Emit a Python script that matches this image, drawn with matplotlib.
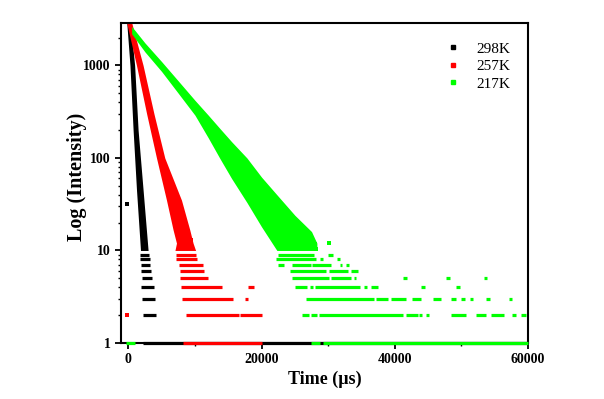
import matplotlib
matplotlib.use("Agg")
import matplotlib.pyplot as plt
from matplotlib.lines import Line2D
from matplotlib.ticker import LogLocator, NullFormatter

plt.rcParams['font.family'] = ['Liberation Serif', 'DejaVu Serif']

labels = ["298K", "257K", "217K"]
colors = ["black", "#ff0000", "#00ff00"]

# dense part of each decay: count level and the
# earliest / latest time (us) where points sit at that level
k298_cloud_y = [3000, 1000, 200, 45, 10]
k298_cloud_t0 = [-250, 250, 720, 1230, 1830]
k298_cloud_t1 = [300, 950, 1470, 2220, 2970]

k257_cloud_y = [3000, 1000, 300, 100, 35, 16.7, 12, 10]
k257_cloud_t0 = [-300, 1230, 2750, 4230, 5730, 6720, 7230, 7000]
k257_cloud_t1 = [450, 2220, 3850, 5475, 7980, 9225, 9720, 10100]

# green decay is flatter: time (us) with lowest / highest count
k217_cloud_t = [500, 2500, 5000, 7500, 10000, 12000, 13700, 15500, 17800,
                20000, 22300, 25000, 27500, 28300]
k217_cloud_lo = [2200, 1400, 860, 500, 290, 165, 100, 60, 33, 18, 10, 10, 10, 10]
k217_cloud_hi = [2650, 1750, 1100, 680, 420, 290, 210, 150, 100, 62, 40, 24, 16, 12]

# low counts come in runs at integer levels: (count, t start, t end)
k298_runs = [(1, 2200, 60000), (2, 2220, 4125), (3, 2070, 4080), (4, 1920, 3870),
             (5, 2025, 3525), (6, 1920, 3375), (7, 1875, 3225), (8, 1800, 3225),
             (9, 1800, 3050)]
k257_runs = [(1, 8220, 20070), (2, 8730, 16600), (2, 16800, 20070),
             (3, 8070, 15720), (3, 17480, 17970), (4, 7980, 14130), (4, 18000, 18900),
             (5, 7725, 11970), (6, 7725, 11325), (7, 7575, 11220), (8, 7230, 10320),
             (9, 7230, 10100)]
k217_runs = [(1, -375, 975), (1, 27480, 28725), (1, 29220, 60000),
             (2, 26000, 27120), (2, 27480, 28320), (2, 28620, 41220), (2, 41620, 43470),
             (2, 43620, 44130), (2, 44625, 45120), (2, 48375, 50700), (2, 52125, 53730),
             (2, 54375, 56325), (2, 57630, 58150), (2, 59000, 59730),
             (3, 26700, 36800), (3, 37230, 38970), (3, 39480, 41730), (3, 42630, 43980),
             (3, 45720, 46980), (3, 48375, 49230), (3, 49875, 50475), (3, 51225, 51720),
             (3, 53730, 54225), (3, 57120, 57630),
             (4, 24975, 26820), (4, 27225, 27720), (4, 28080, 34830), (4, 35325, 35820),
             (4, 36375, 37470), (4, 43980, 44475), (4, 49230, 49725),
             (5, 24630, 30120), (5, 30480, 33480), (5, 33870, 34230), (5, 41220, 41820),
             (5, 47730, 48330), (5, 53370, 53880),
             (6, 24225, 29730), (6, 30075, 32970), (6, 33480, 34470),
             (7, 22470, 23325), (7, 24570, 27375), (7, 27630, 30480), (7, 31725, 32130),
             (7, 32730, 33120),
             (8, 22125, 28230), (8, 28800, 29150), (8, 31320, 31830),
             (9, 22470, 27825), (9, 29970, 30720)]

# single stray points
k298_dot_t = [-150]
k298_dot_y = [32]
k257_dot_t = [-150, 9480]
k257_dot_y = [2, 13]
k217_dot_t = [30075, 27975, 28230, 19500]
k217_dot_y = [12, 11.8, 10.3, 30]

fig = plt.figure(figsize=(6.04, 3.99), dpi=100)
ax = fig.add_axes([0.2003, 0.1404, 0.674, 0.8028])

clouds = [(k298_cloud_y, k298_cloud_t0, k298_cloud_t1),
          (k257_cloud_y, k257_cloud_t0, k257_cloud_t1)]
for (cy, t0, t1), c in zip(clouds, colors[:2]):
    ax.fill_betweenx(cy, t0, t1, color=c, lw=0, zorder=2)
ax.fill_between(k217_cloud_t, k217_cloud_lo, k217_cloud_hi, color=colors[2], lw=0, zorder=2)

for runs, c in zip([k298_runs, k257_runs, k217_runs], colors):
    for lev, ts, te in runs:
        ax.hlines(lev, ts, te, colors=c, lw=2.3, capstyle='butt', zorder=3, clip_on=False)

for tt, yy, c in zip([k298_dot_t, k257_dot_t, k217_dot_t],
                     [k298_dot_y, k257_dot_y, k217_dot_y], colors):
    ax.scatter(tt, yy, s=5, marker='s', color=c, lw=0, zorder=3)

ax.set_yscale('log')
ax.set_xlim(-1100, 60000)
ax.set_ylim(1, 2900)

ax.set_xticks([0, 20000, 40000, 60000])
ax.set_xticks([10000, 30000, 50000], minor=True)
ax.set_yticks([1, 10, 100, 1000])
ax.set_yticklabels(["1", "10", "100", "1000"])
ax.yaxis.set_minor_locator(LogLocator(base=10, subs=range(2, 10)))
ax.yaxis.set_minor_formatter(NullFormatter())

ax.tick_params(which='major', direction='out', length=4, width=1.3, labelsize=10)
ax.tick_params(which='minor', direction='out', length=2.5, width=1.0)
for lab in ax.get_xticklabels() + ax.get_yticklabels():
    lab.set_fontweight('bold')
for sp in ax.spines.values():
    sp.set_linewidth(1.5)

ax.set_xlabel("Time (µs)", fontsize=13, fontweight='bold', labelpad=3)
ax.set_ylabel("Log (Intensity)", fontsize=14.5, fontweight='bold')
ax.yaxis.set_label_coords(-0.083, 0.52)

handles = [Line2D([], [], marker='s', ls='none', color=c, markersize=3) for c in colors]
ax.legend(handles, labels, loc='upper left', bbox_to_anchor=(0.728, 0.91),
          bbox_transform=fig.transFigure, frameon=False, fontsize=11,
          handlelength=1.0, handletextpad=1.0, labelspacing=0.25, borderaxespad=0)

fig.savefig("out.png", dpi=100)
